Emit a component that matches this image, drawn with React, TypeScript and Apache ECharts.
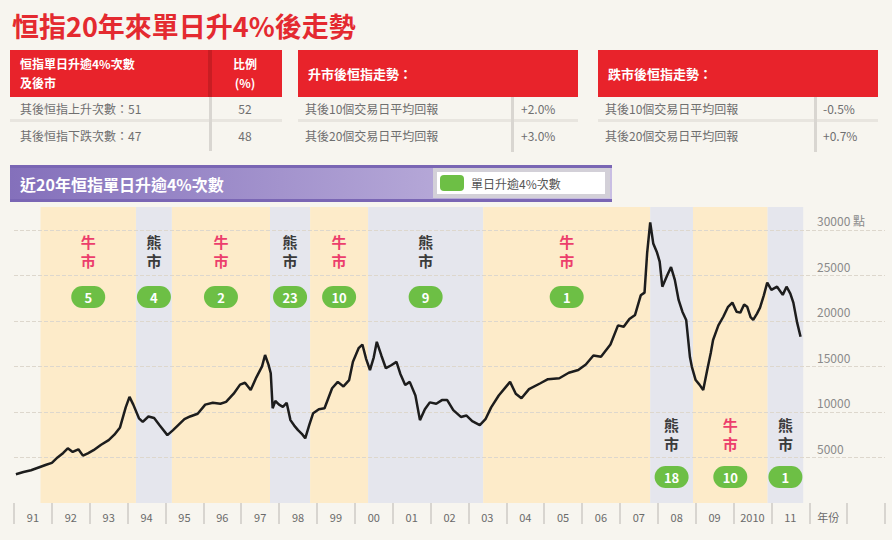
import React, { useEffect, useRef } from 'react';
import * as echarts from 'echarts';

const FONT = '"Noto Sans CJK TC", "Noto Sans", sans-serif';

// 年份 labels along the bottom (one slot per year, plus the unit)
const yearLabels = ['91', '92', '93', '94', '95', '96', '97', '98', '99', '00', '01', '02', '03', '04', '05', '06', '07', '08', '09', '2010', '11', '年份', ''];

// 恒指
const hsiYears = [
  1991.05, 1991.25, 1991.45, 1991.65, 1991.85, 1992.0, 1992.15, 1992.3, 1992.42, 1992.55, 1992.7, 1992.82, 1992.95,
  1993.1, 1993.3, 1993.5, 1993.65, 1993.8, 1993.95, 1994.05, 1994.15, 1994.3, 1994.4, 1994.55, 1994.7, 1994.85,
  1995.05, 1995.2, 1995.35, 1995.5, 1995.65, 1995.85, 1996.05, 1996.25, 1996.45, 1996.6, 1996.8, 1996.97,
  1997.1, 1997.25, 1997.4, 1997.55, 1997.63, 1997.72, 1997.78, 1997.83, 1997.9, 1998.0, 1998.1, 1998.2, 1998.3,
  1998.4, 1998.5, 1998.6, 1998.69, 1998.8, 1998.9, 1999.05, 1999.2, 1999.3, 1999.4, 1999.55, 1999.7, 1999.85,
  1999.95, 2000.1, 2000.2, 2000.3, 2000.4, 2000.5, 2000.58, 2000.7, 2000.82, 2000.95, 2001.1, 2001.2, 2001.33,
  2001.45, 2001.6, 2001.72, 2001.85, 2001.98, 2002.15, 2002.3, 2002.44, 2002.6, 2002.8, 2002.95, 2003.1, 2003.3,
  2003.45, 2003.6, 2003.8, 2004.0, 2004.1, 2004.25, 2004.4, 2004.6, 2004.9, 2005.1, 2005.4, 2005.65, 2005.9,
  2006.1, 2006.3, 2006.5, 2006.75, 2006.95, 2007.1, 2007.25, 2007.4, 2007.55, 2007.65, 2007.72, 2007.8, 2007.88,
  2007.98, 2008.05, 2008.12, 2008.25, 2008.35, 2008.45, 2008.55, 2008.65, 2008.75, 2008.85, 2008.9, 2009.0,
  2009.1, 2009.2, 2009.3, 2009.4, 2009.46, 2009.6, 2009.73, 2009.85, 2009.97, 2010.08, 2010.18, 2010.28, 2010.36,
  2010.45, 2010.52, 2010.62, 2010.7, 2010.8, 2010.89, 2011.0, 2011.15, 2011.3, 2011.4, 2011.5, 2011.58, 2011.68, 2011.77,
];
const hsiValues = [
  3150, 3400, 3600, 3900, 4200, 4400, 5000, 5500, 6000, 5600, 5900, 5200, 5450,
  5800, 6400, 6900, 7500, 8300, 10500, 11650, 10800, 9300, 8900, 9500, 9330, 8500,
  7450, 8000, 8600, 9200, 9500, 9800, 10800, 11000, 10900, 11100, 12000, 13000,
  13200, 12400, 13800, 15000, 16250, 15200, 14250, 10400, 11200, 10800, 10550, 11000, 9100,
  8500, 8000, 7600, 7100, 8600, 9860, 10300, 10400, 11500, 12600, 13300, 12800, 13500,
  15500, 17000, 17400, 15800, 14600, 16000, 17700, 16200, 14800, 15100, 15500, 14200, 12950,
  13300, 11800, 9100, 10300, 11050, 10900, 11300, 11300, 10200, 9450, 9600, 9000, 8550,
  9200, 10500, 11800, 12800, 13300, 12000, 11500, 12500, 13150, 13600, 13700, 14300, 14600,
  15200, 16200, 16050, 17400, 19500, 19350, 20200, 20650, 22800, 23100, 27500, 30800, 28500,
  27500, 26500, 23750, 25000, 25900, 24500, 22300, 21000, 20100, 16000, 14950, 13500,
  13000, 12400, 14500, 16500, 17900, 19500, 20450, 21500, 22000, 21000, 20900, 21800, 21550,
  20400, 20100, 20800, 21450, 22800, 24200, 23400, 23750, 22850, 23750, 23000, 22000, 19800, 18250,
];

const yTicks = [5000, 10000, 15000, 20000, 25000, 30000];

// 牛市 / 熊市 periods and number of 4% up-days in each
const bandStart = [1991.7, 1994.22, 1995.17, 1997.76, 1998.82, 2000.35, 2003.39, 2007.8, 2008.93, 2010.9];
const bandEnd = [1994.22, 1995.17, 1997.76, 1998.82, 2000.35, 2003.39, 2007.8, 2008.93, 2010.9, 2011.84];
const bandType = ['bull', 'bear', 'bull', 'bear', 'bull', 'bear', 'bull', 'bear', 'bull', 'bear'];
const bandCount = [5, 4, 2, 23, 10, 9, 1, 18, 10, 1];
const bandAtBottom = [false, false, false, false, false, false, false, true, true, true];

// tables
const table1Rows = ['其後恒指上升次數：51', '其後恒指下跌次數：47'];
const table1Pct = ['52', '48'];
const table2Rows = ['其後10個交易日平均回報', '其後20個交易日平均回報'];
const table2Vals = ['+2.0%', '+3.0%'];
const table3Rows = ['其後10個交易日平均回報', '其後20個交易日平均回報'];
const table3Vals = ['-0.5%', '+0.7%'];

const RED = '#e8232b';

function rect(x: number, y: number, w: number, h: number, fill: any, r = 0) {
  return { type: 'rect', silent: true, shape: { x, y, width: w, height: h, r }, style: { fill } };
}

function txt(x: number, y: number, text: string, o: any = {}) {
  return {
    type: 'text', silent: true, x, y,
    style: {
      text, fill: o.fill || '#6f6f6f', fontSize: o.size || 12, fontWeight: o.bold ? 'bold' : 'normal',
      fontFamily: FONT, align: o.align || 'left', verticalAlign: 'middle',
    },
  };
}

function buildGraphic() {
  const g: any[] = [];
  g.push(txt(12, 25, '恒指20年來單日升4%後走勢', { fill: '#e42a30', size: 27, bold: true }));

  // table 1
  g.push(rect(10, 50, 272, 47, RED));
  g.push(rect(208, 50, 4, 47, '#c91d23'));
  g.push(rect(10, 119, 272, 3, '#e8e5df'));
  g.push(rect(209, 97, 3, 54, '#d9d6d1'));
  g.push(txt(20, 63, '恒指單日升逾4%次數', { fill: '#fff', bold: true }));
  g.push(txt(20, 82, '及後市', { fill: '#fff', bold: true }));
  g.push(txt(245, 63, '比例', { fill: '#fff', bold: true, align: 'center' }));
  g.push(txt(245, 82, '(%)', { fill: '#fff', bold: true, align: 'center' }));
  table1Rows.forEach((t, i) => {
    g.push(txt(20, 108 + i * 27, t));
    g.push(txt(245, 108 + i * 27, table1Pct[i], { align: 'center' }));
  });

  // table 2
  g.push(rect(298, 50, 280, 47, RED));
  g.push(rect(298, 119, 280, 3, '#e8e5df'));
  g.push(rect(511, 97, 3, 55, '#d9d6d1'));
  g.push(txt(308, 73, '升市後恒指走勢：', { fill: '#fff', bold: true, size: 13 }));
  table2Rows.forEach((t, i) => {
    g.push(txt(305, 108 + i * 27, t));
    g.push(txt(521, 108 + i * 27, table2Vals[i]));
  });

  // table 3
  g.push(rect(598, 50, 280, 47, RED));
  g.push(rect(598, 119, 280, 3, '#e8e5df'));
  g.push(rect(814, 97, 3, 55, '#d9d6d1'));
  g.push(txt(608, 73, '跌市後恒指走勢：', { fill: '#fff', bold: true, size: 13 }));
  table3Rows.forEach((t, i) => {
    g.push(txt(605, 108 + i * 27, t));
    g.push(txt(823, 108 + i * 27, table3Vals[i]));
  });

  // purple banner + legend box
  g.push(rect(10, 165, 602, 37, '#7a66b4'));
  g.push(rect(10, 168, 602, 31, new echarts.graphic.LinearGradient(0, 0, 1, 0, [
    { offset: 0, color: '#8470bb' },
    { offset: 1, color: '#c9bee3' },
  ])));
  g.push(txt(20, 184, '近20年恒指單日升逾4%次數', { fill: '#fff', bold: true, size: 16 }));
  g.push(rect(433, 168, 177, 30, '#d3d0d8'));
  g.push(rect(437, 172, 168, 22, '#ffffff'));
  g.push(rect(440, 175, 24, 16, '#6dbf45', 4));
  g.push(txt(471, 183, '單日升逾4%次數', { fill: '#555', size: 12 }));
  return g;
}

function bandLabel(i: number) {
  const bull = bandType[i] === 'bull';
  const word = bull ? ['牛', '市'] : ['熊', '市'];
  const bottom = bandAtBottom[i];
  return {
    show: true,
    position: bottom ? 'insideBottom' : 'insideTop',
    distance: bottom ? 2 : 25,
    formatter: `{c|${word[0]}}\n{c|${word[1]}}\n{b|${bandCount[i]}}`,
    rich: {
      c: {
        color: bull ? '#ec3e6c' : '#3b3b3b', fontSize: 15, fontWeight: 'bold', lineHeight: 19,
        fontFamily: FONT, align: 'center',
      },
      b: {
        color: '#fff', fontSize: 13, fontWeight: 'bold', backgroundColor: '#6dbf45', borderRadius: 11,
        width: 34, height: 22, align: 'center', lineHeight: bottom ? 48 : 54, fontFamily: FONT,
      },
    },
  };
}

export default function App() {
  const chartRef = useRef<HTMLDivElement>(null);

  useEffect(() => {
    if (!chartRef.current) return;
    const chart = echarts.init(chartRef.current, null, { renderer: 'svg' });

    const bands = bandStart.map((s, i) => [
      {
        xAxis: s,
        itemStyle: { color: bandType[i] === 'bull' ? '#fdebc9' : '#e5e6ed' },
        label: bandLabel(i),
      },
      { xAxis: bandEnd[i] },
    ]);

    const option = {
      animation: false,
      textStyle: { fontFamily: FONT },
      graphic: buildGraphic(),
      grid: { left: 14, right: 7, top: 207, bottom: 37 },
      xAxis: [
        {
          type: 'category',
          data: yearLabels,
          boundaryGap: true,
          position: 'bottom',
          axisLine: { show: false },
          axisTick: { show: true, length: 21, lineStyle: { color: '#d8d5d0', width: 2 } },
          axisLabel: { color: '#6a6a6a', fontSize: 11, margin: 8, interval: 0 },
          splitLine: { show: false },
        },
        { type: 'value', min: 1991, max: 2014, show: false },
      ],
      yAxis: {
        type: 'value',
        min: 0,
        max: 32500,
        interval: 5000,
        position: 'right',
        axisLine: { show: false },
        axisTick: { show: false },
        splitLine: { show: false },
        axisLabel: {
          inside: true,
          align: 'left',
          margin: 68,
          verticalAlign: 'bottom',
          padding: [0, 0, 3, 0],
          color: '#8a8a8a',
          fontSize: 12,
          showMinLabel: false,
          showMaxLabel: false,
          formatter: (v: number) => (v === 30000 ? '30000 點' : String(v)),
        },
      },
      series: [
        {
          type: 'line',
          xAxisIndex: 1,
          data: hsiYears.map((y, i) => [y, hsiValues[i]]),
          symbol: 'none',
          z: 3,
          lineStyle: { color: '#1d1d1d', width: 2.5 },
          markArea: { silent: true, z: 1, data: bands },
          markLine: {
            silent: true,
            z: 2,
            symbol: 'none',
            label: { show: false },
            lineStyle: { type: 'dashed', color: '#ddd7cd', width: 1 },
            data: yTicks.map((v) => ({ yAxis: v })),
          },
        },
      ],
    };

    chart.setOption(option as any);
    return () => chart.dispose();
  }, []);

  return (
    <div style={{ position: 'absolute', left: 0, top: 0, width: 892, height: 540, background: '#f7f5ef' }}>
      <div ref={chartRef} style={{ width: 892, height: 540 }} />
    </div>
  );
}
